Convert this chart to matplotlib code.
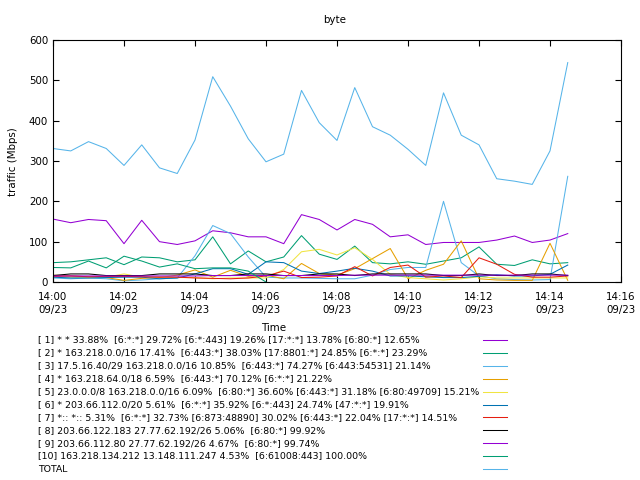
import matplotlib
matplotlib.use('Agg')
import matplotlib.pyplot as plt
import matplotlib.dates as mdates
from matplotlib.lines import Line2D
import numpy as np
import pandas as pd

nan = np.nan

# 30 second samples, 14:00:00 .. 14:14:30
times = pd.date_range("2019-09-23 14:00:00", periods=30, freq="30s")

legend_labels = [
    "[ 1] * * 33.88%  [6:*:*] 29.72% [6:*:443] 19.26% [17:*:*] 13.78% [6:80:*] 12.65%",
    "[ 2] * 163.218.0.0/16 17.41%  [6:443:*] 38.03% [17:8801:*] 24.85% [6:*:*] 23.29%",
    "[ 3] 17.5.16.40/29 163.218.0.0/16 10.85%  [6:443:*] 74.27% [6:443:54531] 21.14%",
    "[ 4] * 163.218.64.0/18 6.59%  [6:443:*] 70.12% [6:*:*] 21.22%",
    "[ 5] 23.0.0.0/8 163.218.0.0/16 6.09%  [6:80:*] 36.60% [6:443:*] 31.18% [6:80:49709] 15.21%",
    "[ 6] * 203.66.112.0/20 5.61%  [6:*:*] 35.92% [6:*:443] 24.74% [47:*:*] 19.91%",
    "[ 7] *:: *:: 5.31%  [6:*:*] 32.73% [6:873:48890] 30.02% [6:443:*] 22.04% [17:*:*] 14.51%",
    "[ 8] 203.66.122.183 27.77.62.192/26 5.06%  [6:80:*] 99.92%",
    "[ 9] 203.66.112.80 27.77.62.192/26 4.67%  [6:80:*] 99.74%",
    "[10] 163.218.134.212 13.148.111.247 4.53%  [6:61008:443] 100.00%",
    "TOTAL",
]

s1 = [156, 147, 155, 152, 95, 153, 100, 93, 102, 127, 122, 112, 112, 95, 167,
      155, 129, 155, 143, 112, 117, 93, 98, 98, 98, 104, 114, 98, 104, 120]
s2 = [48, 50, 55, 60, 43, 62, 60, 50, 55, 112, 45, 77, 50, 62, 115,
      69, 56, 89, 48, 45, 50, 44, 52, 60, 87, 44, 41, 55, 45, 48]
s3 = [10, 8, 10, 8, 3, 5, 8, 10, 65, 140, 120, 62, 12, 10, 10,
      9, 8, 8, 17, 31, 36, 36, 200, 48, 15, 8, 6, 5, 6, 262]
s4 = [17, 15, 13, 11, 4, 9, 11, 17, 30, 12, 29, 14, 17, 8, 46,
      21, 17, 33, 58, 83, 8, 29, 44, 102, 8, 5, 4, 4, 96, 4]
s5 = [13, 12, 11, 12, 20, 12, 13, 11, 11, 8, 10, 10, 10, 31, 75,
      81, 67, 85, 56, 19, 11, 8, 5, 8, 13, 10, 10, 10, 10, 10]
s6 = [12, 10, 10, 11, 12, 12, 8, 10, 20, 33, 33, 19, 50, 48, 27,
      21, 27, 34, 27, 15, 15, 13, 11, 11, 14, 18, 15, 15, 19, 42]
s7 = [14, 15, 13, 14, 14, 13, 12, 12, 10, 9, 8, 10, 15, 27, 11,
      12, 15, 38, 15, 36, 42, 12, 15, 11, 60, 44, 19, 12, 12, 15]
s8 = [16, 20, 20, 16, 16, 16, 20, 20, 20, 16, 16, 20, 20, 16, 16,
      20, 20, 16, 20, 20, 20, 20, 16, 16, 20, 16, 16, 20, 20, 16]
s9 = [15, 15, 15, 15, 15, 15, 15, 15, 15, 16, 16, 16, 16, 16, 16,
      16, 16, 17, 17, 17, 17, 17, 17, 17, 17, 17, 17, 17, 17, 17]
s10 = [36, 35, 52, 35, 64, 52, 37, 45, 33, 35, 35, 27, 0, nan, nan,
       nan, nan, nan, nan, nan, nan, nan, nan, nan, nan, nan, nan, nan, nan, nan]
total = [331, 325, 348, 331, 289, 340, 283, 269, 352, 509, 436, 355, 298, 317, 475,
         395, 351, 482, 385, 364, 329, 289, 469, 364, 340, 256, 250, 242, 325, 544]

series = [s1, s2, s3, s4, s5, s6, s7, s8, s9, s10, total]
# gnuplot default line colours
colors = ['#9400d3', '#009e73', '#56b4e9', '#e69f00', '#f0e442', '#0072b2',
          '#e51e10', '#000000', '#9400d3', '#009e73', '#56b4e9']

plt.rcParams['font.family'] = ['DejaVu Sans']

fig = plt.figure(figsize=(6.4, 4.8), dpi=100)
W, H = 640, 480
ax = fig.add_axes([53 / W, 1 - 282 / H, (621 - 53) / W, (282 - 40) / H])

for vals, c in zip(series, colors):
    ax.plot(times, vals, color=c, lw=0.75)

ax.set_xlim(pd.Timestamp("2019-09-23 14:00"), pd.Timestamp("2019-09-23 14:16"))
ax.set_ylim(0, 600)
ax.set_yticks(range(0, 601, 100))
ax.xaxis.set_major_locator(mdates.MinuteLocator(byminute=range(0, 60, 2)))
ax.xaxis.set_major_formatter(mdates.DateFormatter('%H:%M\n%m/%d'))
ax.tick_params(direction='in', length=4, width=0.8, top=True, right=True,
               labelsize=7.4, colors='black')
ax.tick_params(axis='x', pad=7)
for lbl in ax.get_xticklabels():
    lbl.set_linespacing(1.4)
for sp in ax.spines.values():
    sp.set_linewidth(0.8)
    sp.set_color('black')

fig.text(335 / W, 1 - 20 / H, "byte", ha='center', va='center', fontsize=7.4)
fig.text(12.5 / W, 1 - 162 / H, "traffic (Mbps)", rotation=90,
         ha='center', va='center', fontsize=7.4)
fig.text(274 / W, 1 - 328 / H, "Time", ha='center', va='center', fontsize=7.4)

# key below the plot
for i, (lab, c) in enumerate(zip(legend_labels, colors)):
    y = 1 - (340 + 12.9 * i) / H
    fig.text(38 / W, y, lab, ha='left', va='center', fontsize=6.75)
    fig.add_artist(Line2D([483 / W, 507 / W], [y, y], color=c, lw=0.75,
                          transform=fig.transFigure))

fig.savefig('out.png', dpi=100)
plt.close()
